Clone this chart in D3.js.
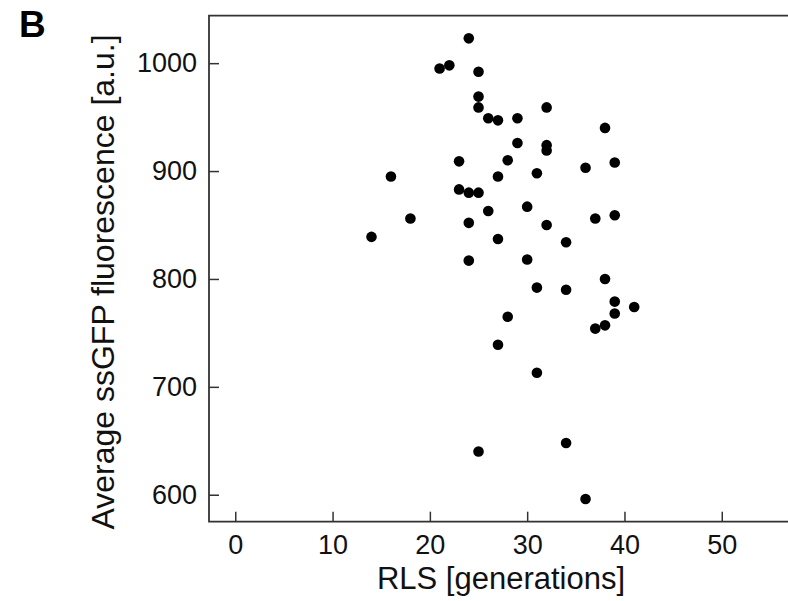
<!DOCTYPE html>
<html>
<head>
<meta charset="utf-8">
<script src="https://cdn.jsdelivr.net/npm/d3@7/dist/d3.min.js"></script>
<style>
    html, body { margin: 0; padding: 0; background: #fff; }
    svg { display: block; font-family: "Liberation Sans", Arial, sans-serif; }
</style>
</head>
<body>
<svg id="chart" width="788" height="601"></svg>
<script>
// RLS (generations) of each cell and its average ssGFP fluorescence
var rls = [24, 21, 22, 25, 25, 25, 32, 26, 27, 29, 38, 29, 32, 32, 23, 28, 39, 36, 16, 27,
           31, 23, 24, 25, 26, 18, 24, 30, 37, 39, 32, 14, 27, 34, 24, 30, 38, 31, 34, 39,
           41, 39, 28, 38, 37, 27, 31, 34, 25, 36];
var fluorescence = [1023, 995, 998, 992, 969, 959, 959, 949, 947, 949, 940, 926, 924, 919, 909, 910, 908, 903, 895, 895,
                    898, 883, 880, 880, 863, 856, 852, 867, 856, 859, 850, 839, 837, 834, 817, 818, 800, 792, 790, 779,
                    774, 768, 765, 757, 754, 739, 713, 648, 640, 596];

var xTicks = [0, 10, 20, 30, 40, 50];
var yTicks = [600, 700, 800, 900, 1000];

var panelLabel = "B";
var xTitle = "RLS [generations]";
var yTitle = "Average ssGFP fluorescence [a.u.]";

function scatter(svg) {
    var left = 209, top = 15.7, bottom = 521.7;
    var axisColor = "#333";

    var data = rls.map(function(d, i) {
        return { rls: d, gfp: fluorescence[i] };
    });

    // plot runs off the right side of the picture, like the original crop
    var x = d3.scaleLinear().domain([-2.7, 60]).range([left, left + 62.7 * 9.73]);
    var y = d3.scaleLinear().domain([575, 1044]).range([bottom, top]);

    var g = d3.select(svg);

    // frame: left, top, bottom
    g.append("path")
        .attr("d", "M" + x(60) + "," + top + "H" + left + "V" + bottom + "H" + x(60))
        .attr("fill", "none")
        .attr("stroke", axisColor)
        .attr("stroke-width", 1.8);

    var xAxis = g.append("g")
        .attr("transform", "translate(0," + bottom + ")")
        .call(d3.axisBottom(x).tickValues(xTicks).tickSize(-10).tickPadding(13).tickFormat(d3.format("d")));
    xAxis.select(".domain").remove();
    xAxis.selectAll(".tick line").attr("stroke", axisColor).attr("stroke-width", 1.5);
    xAxis.selectAll(".tick text")
        .attr("fill", "#111")
        .style("font-size", "27px");

    var yAxis = g.append("g")
        .attr("transform", "translate(" + left + ",0)")
        .call(d3.axisLeft(y).tickValues(yTicks).tickSize(-10).tickPadding(12).tickFormat(d3.format("d")));
    yAxis.select(".domain").remove();
    yAxis.selectAll(".tick line").attr("stroke", axisColor).attr("stroke-width", 1.5);
    yAxis.selectAll(".tick text")
        .attr("fill", "#111")
        .style("font-size", "27px");

    g.append("g")
        .selectAll("circle")
        .data(data)
        .enter()
        .append("circle")
        .attr("cx", function(d) { return x(d.rls); })
        .attr("cy", function(d) { return y(d.gfp); })
        .attr("r", 5.3)
        .attr("fill", "#000");

    g.append("text")
        .attr("x", 501)
        .attr("y", 589)
        .attr("text-anchor", "middle")
        .attr("fill", "#111")
        .style("font-size", "31px")
        .text(xTitle);

    g.append("text")
        .attr("transform", "translate(114,282) rotate(-90)")
        .attr("text-anchor", "middle")
        .attr("fill", "#111")
        .style("font-size", "32px")
        .text(yTitle);

    g.append("text")
        .attr("x", 19)
        .attr("y", 37)
        .attr("fill", "#000")
        .style("font-size", "37px")
        .style("font-weight", "bold")
        .text(panelLabel);
}

scatter(document.getElementById("chart"));
</script>
</body>
</html>
